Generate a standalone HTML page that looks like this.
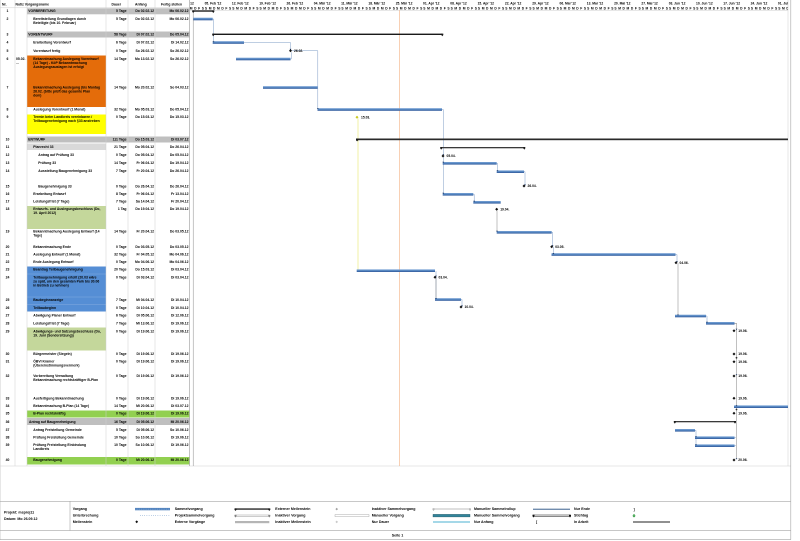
<!DOCTYPE html>
<html><head><meta charset="utf-8">
<style>
html,body{margin:0;padding:0;background:#fff;}
svg{display:block;}
.t{font-family:"Liberation Sans",Arial,sans-serif;font-weight:bold;font-size:3.4px;fill:#000;}
.s{font-family:"Liberation Sans",Arial,sans-serif;font-weight:bold;font-size:3.3px;fill:#000;}
.r{text-anchor:end;}
.c{text-anchor:middle;}
.l{font-family:"Liberation Sans",Arial,sans-serif;font-weight:bold;font-size:3.6px;fill:#000;}
</style></head>
<body>
<svg width="800" height="541" viewBox="0 0 800 541" xmlns="http://www.w3.org/2000/svg">
<defs>
<linearGradient id="bg" x1="0" y1="0" x2="0" y2="1">
<stop offset="0" stop-color="#7aa3d6"/><stop offset="0.55" stop-color="#4f81bd"/><stop offset="1" stop-color="#2f5597"/>
</linearGradient>
<clipPath id="ch"><rect x="190" y="0" width="598" height="467"/></clipPath>
</defs>
<rect width="800" height="541" fill="#fff"/>

<!-- row backgrounds -->
<rect x="27" y="8.3" width="162.5" height="6" fill="#bfbfbf"/>
<rect x="27" y="31.5" width="162.5" height="6" fill="#bfbfbf"/>
<rect x="27" y="55.5" width="79" height="51.5" fill="#e46c0a"/>
<rect x="27" y="114.5" width="79" height="19.5" fill="#ffff00"/>
<rect x="27" y="136.5" width="162.5" height="6" fill="#bfbfbf"/>
<rect x="27" y="143.5" width="79" height="6.5" fill="#d9d9d9"/>
<rect x="27" y="206" width="79" height="23" fill="#c4d79b"/>
<rect x="27" y="266.5" width="79" height="45" fill="#558ed5"/>
<line x1="27" y1="274" x2="106" y2="274" stroke="#8fb4e3" stroke-width="0.4"/>
<line x1="27" y1="297" x2="106" y2="297" stroke="#8fb4e3" stroke-width="0.4"/>
<line x1="27" y1="304.5" x2="106" y2="304.5" stroke="#8fb4e3" stroke-width="0.4"/>
<rect x="27" y="327.5" width="79" height="23" fill="#c4d79b"/>
<rect x="27" y="410.5" width="162.5" height="7" fill="#92d050"/>
<rect x="27" y="418" width="162.5" height="7" fill="#bfbfbf"/>
<rect x="27" y="457" width="162.5" height="7.5" fill="#92d050"/>

<!-- table grid -->
<g stroke="#cfcfcf" stroke-width="0.5">
<line x1="0.5" y1="0" x2="0.5" y2="540"/>
<line x1="15" y1="0" x2="15" y2="466"/>
<line x1="27" y1="0" x2="27" y2="466"/>
<line x1="106" y1="0" x2="106" y2="466"/>
<line x1="128" y1="0" x2="128" y2="466"/>
<line x1="155" y1="0" x2="155" y2="466"/>
<line x1="0" y1="7.8" x2="189.5" y2="7.8"/>
<line x1="190" y1="10.3" x2="788" y2="10.3"/>
<line x1="0" y1="466" x2="791" y2="466"/>
<line x1="788" y1="0" x2="788" y2="466"/>
</g>
<line x1="189.5" y1="0" x2="189.5" y2="466" stroke="#999" stroke-width="0.6"/>

<!-- table header -->
<text class="t" x="2" y="5.3">Nr.</text>
<text class="t" x="15.5" y="5.3">Notiz Vorgangsname</text>
<text class="t" x="111.5" y="5.3">Dauer</text>
<text class="t" x="135" y="5.3">Anfang</text>
<text class="t" x="161" y="5.3">Fertig stellen</text>

<!-- Nr column -->
<g class="t c">
<text x="7.5" y="12.2">1</text><text x="7.5" y="20.2">2</text><text x="7.5" y="35.5">3</text>
<text x="7.5" y="43.7">4</text><text x="7.5" y="52.2">5</text><text x="7.5" y="59.9">6</text>
<text x="7.5" y="88.5">7</text><text x="7.5" y="110.5">8</text><text x="7.5" y="118.2">9</text>
<text x="7.5" y="140.5">10</text><text x="7.5" y="147.9">11</text><text x="7.5" y="155.9">12</text>
<text x="7.5" y="164.2">13</text><text x="7.5" y="172.2">14</text><text x="7.5" y="187.7">15</text>
<text x="7.5" y="195.2">16</text><text x="7.5" y="202.7">17</text><text x="7.5" y="210.2">18</text>
<text x="7.5" y="232.7">19</text><text x="7.5" y="247.9">20</text><text x="7.5" y="255.7">21</text>
<text x="7.5" y="263.2">22</text><text x="7.5" y="270.7">23</text><text x="7.5" y="278.5">24</text>
<text x="7.5" y="301.2">25</text><text x="7.5" y="308.9">26</text><text x="7.5" y="316.7">27</text>
<text x="7.5" y="324.7">28</text><text x="7.5" y="332.7">29</text><text x="7.5" y="354.9">30</text>
<text x="7.5" y="362.5">31</text><text x="7.5" y="377.2">32</text><text x="7.5" y="399.7">33</text>
<text x="7.5" y="407.2">34</text><text x="7.5" y="414.7">35</text><text x="7.5" y="422.9">36</text>
<text x="7.5" y="430.9">37</text><text x="7.5" y="438.5">38</text><text x="7.5" y="446.2">39</text>
<text x="7.5" y="461.2">40</text>
</g>
<text class="t" x="16" y="59.9">05.02.</text>
<text class="t" x="16" y="63.9">...</text>

<!-- names -->
<g class="t">
<text x="28.3" y="12.2">VORBEREITUNG</text>
<text x="33.3" y="20.2">Bereitstellung Grundlagen durch</text>
<text x="33.3" y="24.2">Beteiligte (bis 10. Februar)</text>
<text x="28.3" y="35.5">VORENTWURF</text>
<text x="33.3" y="43.7">Erarbeitung Vorentwurf</text>
<text x="33.3" y="52.2">Vorentwurf fertig</text>
<text x="33.3" y="59.9">Bekanntmachung Auslegung Vorentwurf</text>
<text x="33.3" y="63.9">(14 Tage) - KöP Bekanntmachung</text>
<text x="33.3" y="67.9">Auslegungsauslagen ist erfolgt</text>
<text x="33.3" y="88.5">Bekanntmachung Auslegung (bis Montag</text>
<text x="33.3" y="92.5">26.02. (bitte prüft das gesamte Plan</text>
<text x="33.3" y="96.5">dem)</text>
<text x="33.3" y="110.5">Auslegung Vorentwurf (1 Monat)</text>
<text x="33.3" y="118.2">Termin beim Landkreis vereinbaren /</text>
<text x="33.3" y="122.2">Teilbaugenehmigung nach §33 anstreben</text>
<text x="28.3" y="140.5">ENTWURF</text>
<text x="33.3" y="147.9">Planrecht 33</text>
<text x="38.3" y="155.9">Antrag auf Prüfung 33</text>
<text x="38.3" y="164.2">Prüfung 33</text>
<text x="38.3" y="172.2">Ausstellung Baugenehmigung 33</text>
<text x="38.3" y="187.7">Baugenehmigung 33</text>
<text x="33.3" y="195.2">Erarbeitung Entwurf</text>
<text x="33.3" y="202.7">Leistungsfrist (7 Tage)</text>
<text x="33.3" y="210.2">Entwurfs- und Auslegungsbeschluss (Do,</text>
<text x="33.3" y="214.2">19. April 2012)</text>
<text x="33.3" y="232.7">Bekanntmachung Auslegung Entwurf (14</text>
<text x="33.3" y="236.7">Tage)</text>
<text x="33.3" y="247.9">Bekanntmachung Ende</text>
<text x="33.3" y="255.7">Auslegung Entwurf (1 Monat)</text>
<text x="33.3" y="263.2">Ende Auslegung Entwurf</text>
<text x="33.3" y="270.7">Beantrag Teilbaugenehmigung</text>
<text x="33.3" y="278.5">Teilbaugenehmigung erteilt (20.03 wäre</text>
<text x="33.3" y="282.5">zu spät, um den gesamten Park bis 30.06</text>
<text x="33.3" y="286.5">in Betrieb zu nehmen)</text>
<text x="33.3" y="301.2">Baubeginnanzeige</text>
<text x="33.3" y="308.9">Teilbaubeginn</text>
<text x="33.3" y="316.7">Abwägung Planer Entwurf</text>
<text x="33.3" y="324.7">Leistungsfrist (7 Tage)</text>
<text x="33.3" y="332.7">Abwägungs- und Satzungsbeschluss (Do,</text>
<text x="33.3" y="336.7">19. Juni (Sondersitzung))</text>
<text x="33.3" y="354.9">Bürgermeister (Siegeln)</text>
<text x="33.3" y="362.5">ÖBVI Kramer</text>
<text x="33.3" y="366.5">(Übereinstimmungsvermerk)</text>
<text x="33.3" y="377.2">Vorbereitung Verwaltung</text>
<text x="33.3" y="381.2">Bekanntmachung rechtskräftiger B-Plan</text>
<text x="33.3" y="399.7">Ausfertigung Bekanntmachung</text>
<text x="33.3" y="407.2">Bekanntmachung B-Plan (14 Tage)</text>
<text x="33.3" y="414.7">B-Plan rechtskräftig</text>
<text x="29" y="422.9">Antrag auf Baugenehmigung</text>
<text x="33.3" y="430.9">Antrag Freistellung Gemeinde</text>
<text x="33.3" y="438.5">Prüfung Freistellung Gemeinde</text>
<text x="33.3" y="446.2">Prüfung Freistellung Einbindung</text>
<text x="33.3" y="450.2">Landkreis</text>
<text x="33.3" y="461.2">Baugenehmigung</text>
</g>

<!-- Dauer -->
<g class="t r">
<text x="126.5" y="12.2">5 Tage</text><text x="126.5" y="20.2">5 Tage</text><text x="126.5" y="35.5">58 Tage</text>
<text x="126.5" y="43.7">6 Tage</text><text x="126.5" y="52.2">0 Tage</text><text x="126.5" y="59.9">14 Tage</text>
<text x="126.5" y="88.5">14 Tage</text><text x="126.5" y="110.5">32 Tage</text><text x="126.5" y="118.2">0 Tage</text>
<text x="126.5" y="140.5">111 Tage</text><text x="126.5" y="147.9">21 Tage</text><text x="126.5" y="155.9">0 Tage</text>
<text x="126.5" y="164.2">14 Tage</text><text x="126.5" y="172.2">7 Tage</text><text x="126.5" y="187.7">0 Tage</text>
<text x="126.5" y="195.2">8 Tage</text><text x="126.5" y="202.7">7 Tage</text><text x="126.5" y="210.2">1 Tag</text>
<text x="126.5" y="232.7">14 Tage</text><text x="126.5" y="247.9">0 Tage</text><text x="126.5" y="255.7">32 Tage</text>
<text x="126.5" y="263.2">0 Tage</text><text x="126.5" y="270.7">20 Tage</text><text x="126.5" y="278.5">0 Tage</text>
<text x="126.5" y="301.2">7 Tage</text><text x="126.5" y="308.9">0 Tage</text><text x="126.5" y="316.7">6 Tage</text>
<text x="126.5" y="324.7">7 Tage</text><text x="126.5" y="332.7">0 Tage</text><text x="126.5" y="354.9">0 Tage</text>
<text x="126.5" y="362.5">0 Tage</text><text x="126.5" y="377.2">0 Tage</text><text x="126.5" y="399.7">0 Tage</text>
<text x="126.5" y="407.2">14 Tage</text><text x="126.5" y="414.7">0 Tage</text><text x="126.5" y="422.9">16 Tage</text>
<text x="126.5" y="430.9">5 Tage</text><text x="126.5" y="438.5">10 Tage</text><text x="126.5" y="446.2">10 Tage</text>
<text x="126.5" y="461.2">0 Tage</text>
</g>

<!-- Anfang -->
<g class="t r">
<text x="154" y="12.2">Do 02.02.12</text><text x="154" y="20.2">Do 02.02.12</text><text x="154" y="35.5">Di 07.02.12</text>
<text x="154" y="43.7">Di 07.02.12</text><text x="154" y="52.2">So 26.02.12</text><text x="154" y="59.9">Mo 13.02.12</text>
<text x="154" y="88.5">Mo 20.02.12</text><text x="154" y="110.5">Mo 05.03.12</text><text x="154" y="118.2">Do 15.03.12</text>
<text x="154" y="140.5">Do 15.03.12</text><text x="154" y="147.9">Do 05.04.12</text><text x="154" y="155.9">Do 05.04.12</text>
<text x="154" y="164.2">Fr 06.04.12</text><text x="154" y="172.2">Fr 20.04.12</text><text x="154" y="187.7">Do 26.04.12</text>
<text x="154" y="195.2">Fr 06.04.12</text><text x="154" y="202.7">Sa 14.04.12</text><text x="154" y="210.2">Do 19.04.12</text>
<text x="154" y="232.7">Fr 20.04.12</text><text x="154" y="247.9">Do 03.05.12</text><text x="154" y="255.7">Fr 04.05.12</text>
<text x="154" y="263.2">Mo 04.06.12</text><text x="154" y="270.7">Do 15.03.12</text><text x="154" y="278.5">Di 03.04.12</text>
<text x="154" y="301.2">Mi 04.04.12</text><text x="154" y="308.9">Di 10.04.12</text><text x="154" y="316.7">Di 05.06.12</text>
<text x="154" y="324.7">Mi 13.06.12</text><text x="154" y="332.7">Di 19.06.12</text><text x="154" y="354.9">Di 19.06.12</text>
<text x="154" y="362.5">Di 19.06.12</text><text x="154" y="377.2">Di 19.06.12</text><text x="154" y="399.7">Di 19.06.12</text>
<text x="154" y="407.2">Mi 20.06.12</text><text x="154" y="414.7">Di 19.06.12</text><text x="154" y="422.9">Di 05.06.12</text>
<text x="154" y="430.9">Di 05.06.12</text><text x="154" y="438.5">So 10.06.12</text><text x="154" y="446.2">So 10.06.12</text>
<text x="154" y="461.2">Mi 20.06.12</text>
</g>

<!-- Fertig -->
<g class="t r">
<text x="188.5" y="12.2">Mo 06.02.12</text><text x="188.5" y="20.2">Mo 06.02.12</text><text x="188.5" y="35.5">Do 05.04.12</text>
<text x="188.5" y="43.7">Di 14.02.12</text><text x="188.5" y="52.2">So 26.02.12</text><text x="188.5" y="59.9">So 26.02.12</text>
<text x="188.5" y="88.5">So 04.03.12</text><text x="188.5" y="110.5">Do 05.04.12</text><text x="188.5" y="118.2">Do 15.03.12</text>
<text x="188.5" y="140.5">Di 03.07.12</text><text x="188.5" y="147.9">Do 26.04.12</text><text x="188.5" y="155.9">Do 05.04.12</text>
<text x="188.5" y="164.2">Do 19.04.12</text><text x="188.5" y="172.2">Do 26.04.12</text><text x="188.5" y="187.7">Do 26.04.12</text>
<text x="188.5" y="195.2">Fr 13.04.12</text><text x="188.5" y="202.7">Fr 20.04.12</text><text x="188.5" y="210.2">Do 19.04.12</text>
<text x="188.5" y="232.7">Do 03.05.12</text><text x="188.5" y="247.9">Do 03.05.12</text><text x="188.5" y="255.7">Mo 04.06.12</text>
<text x="188.5" y="263.2">Mo 04.06.12</text><text x="188.5" y="270.7">Di 03.04.12</text><text x="188.5" y="278.5">Di 03.04.12</text>
<text x="188.5" y="301.2">Di 10.04.12</text><text x="188.5" y="308.9">Di 10.04.12</text><text x="188.5" y="316.7">Di 12.06.12</text>
<text x="188.5" y="324.7">Di 19.06.12</text><text x="188.5" y="332.7">Di 19.06.12</text><text x="188.5" y="354.9">Di 19.06.12</text>
<text x="188.5" y="362.5">Di 19.06.12</text><text x="188.5" y="377.2">Di 19.06.12</text><text x="188.5" y="399.7">Di 19.06.12</text>
<text x="188.5" y="407.2">Di 03.07.12</text><text x="188.5" y="414.7">Di 19.06.12</text><text x="188.5" y="422.9">Mi 20.06.12</text>
<text x="188.5" y="430.9">So 10.06.12</text><text x="188.5" y="438.5">Di 19.06.12</text><text x="188.5" y="446.2">Di 19.06.12</text>
<text x="188.5" y="461.2">Mi 20.06.12</text>
</g>

<!-- ============ CHART ============ -->
<g clip-path="url(#ch)">
<!-- timeline header: week labels -->
<g class="s">
<text x="177.3" y="4.6">29. Jan '12</text>
<text x="204.6" y="4.6">05. Feb '12</text>
<text x="231.9" y="4.6">12. Feb '12</text>
<text x="259.2" y="4.6">19. Feb '12</text>
<text x="286.5" y="4.6">26. Feb '12</text>
<text x="313.8" y="4.6">04. Mär '12</text>
<text x="341.1" y="4.6">11. Mär '12</text>
<text x="368.4" y="4.6">18. Mär '12</text>
<text x="395.7" y="4.6">25. Mär '12</text>
<text x="423.0" y="4.6">01. Apr '12</text>
<text x="450.3" y="4.6">08. Apr '12</text>
<text x="477.6" y="4.6">15. Apr '12</text>
<text x="504.9" y="4.6">22. Apr '12</text>
<text x="532.2" y="4.6">29. Apr '12</text>
<text x="559.5" y="4.6">06. Mai '12</text>
<text x="586.8" y="4.6">13. Mai '12</text>
<text x="614.1" y="4.6">20. Mai '12</text>
<text x="641.4" y="4.6">27. Mai '12</text>
<text x="668.7" y="4.6">03. Jun '12</text>
<text x="696.0" y="4.6">10. Jun '12</text>
<text x="723.3" y="4.6">17. Jun '12</text>
<text x="750.6" y="4.6">24. Jun '12</text>
<text x="777.9" y="4.6">01. Jul '12</text>
</g>
<!-- day letters -->
<g class="s">
<text x="177.6" y="9.3" textLength="26.3" lengthAdjust="spacing">SMDMDFS</text>
<text x="204.9" y="9.3" textLength="26.3" lengthAdjust="spacing">SMDMDFS</text>
<text x="232.2" y="9.3" textLength="26.3" lengthAdjust="spacing">SMDMDFS</text>
<text x="259.5" y="9.3" textLength="26.3" lengthAdjust="spacing">SMDMDFS</text>
<text x="286.8" y="9.3" textLength="26.3" lengthAdjust="spacing">SMDMDFS</text>
<text x="314.1" y="9.3" textLength="26.3" lengthAdjust="spacing">SMDMDFS</text>
<text x="341.4" y="9.3" textLength="26.3" lengthAdjust="spacing">SMDMDFS</text>
<text x="368.7" y="9.3" textLength="26.3" lengthAdjust="spacing">SMDMDFS</text>
<text x="396.0" y="9.3" textLength="26.3" lengthAdjust="spacing">SMDMDFS</text>
<text x="423.3" y="9.3" textLength="26.3" lengthAdjust="spacing">SMDMDFS</text>
<text x="450.6" y="9.3" textLength="26.3" lengthAdjust="spacing">SMDMDFS</text>
<text x="477.9" y="9.3" textLength="26.3" lengthAdjust="spacing">SMDMDFS</text>
<text x="505.2" y="9.3" textLength="26.3" lengthAdjust="spacing">SMDMDFS</text>
<text x="532.5" y="9.3" textLength="26.3" lengthAdjust="spacing">SMDMDFS</text>
<text x="559.8" y="9.3" textLength="26.3" lengthAdjust="spacing">SMDMDFS</text>
<text x="587.1" y="9.3" textLength="26.3" lengthAdjust="spacing">SMDMDFS</text>
<text x="614.4" y="9.3" textLength="26.3" lengthAdjust="spacing">SMDMDFS</text>
<text x="641.7" y="9.3" textLength="26.3" lengthAdjust="spacing">SMDMDFS</text>
<text x="669.0" y="9.3" textLength="26.3" lengthAdjust="spacing">SMDMDFS</text>
<text x="696.3" y="9.3" textLength="26.3" lengthAdjust="spacing">SMDMDFS</text>
<text x="723.6" y="9.3" textLength="26.3" lengthAdjust="spacing">SMDMDFS</text>
<text x="750.9" y="9.3" textLength="26.3" lengthAdjust="spacing">SMDMDFS</text>
<text x="778.2" y="9.3" textLength="26.3" lengthAdjust="spacing">SMDMDFS</text>
</g>

<!-- status line & left line -->
<line x1="399.3" y1="10.3" x2="399.3" y2="466" stroke="#f4b183" stroke-width="0.6"/>
<line x1="193.2" y1="11" x2="193.2" y2="466" stroke="#8a8a8a" stroke-width="0.5"/>

<!-- connectors -->
<g fill="none" stroke="#7f9cc6" stroke-width="0.5">
<polyline points="212.7,19 213.5,19 213.5,41"/>
<polyline points="244,42.5 290.5,42.5 290.5,49.3"/>
<polyline points="290.5,59 291.3,59 291.3,52.3"/>
<polyline points="292,50.7 317.8,50.7 317.8,108.3"/>
<polyline points="442,109.5 443.3,109.5 443.3,193"/>
<polyline points="496.7,163.3 497.5,163.3 497.5,170.5"/>
<polyline points="524,171.7 525,171.7 525,184.7"/>
<polyline points="473.3,194.3 474.2,194.3 474.2,201"/>
<polyline points="551.7,232.3 552.6,232.3 552.6,245.4"/>
<polyline points="553,247 553.4,247 553.4,253.3"/>
<polyline points="675.5,254.5 677,254.5 677,261.4"/>
<polyline points="706,316 707,316 707,322"/>
<polyline points="436,271 436,298.2"/>
<polyline points="461,299.5 462,299.5 462,305.7"/>
<polyline points="695,430.3 696,430.3 696,444.5"/>
<polyline points="734.5,437.7 735.8,437.7"/>
<polyline points="734.5,445.7 735.8,445.7"/>
</g>
<g fill="none" stroke="#8c8c8c" stroke-width="0.55">
<polyline points="497,210.5 497,231"/>
<polyline points="678,263 678,315"/>
<polyline points="436,278 436,298.5"/>
<polyline points="734.5,323.3 736.5,323.3 736.5,459"/>
</g>
<line x1="358" y1="118.5" x2="358" y2="269.5" stroke="#e6e66a" stroke-width="0.6"/>

<!-- task bars -->
<g fill="url(#bg)">
<rect x="193.3" y="17.7" width="19.4" height="2.6"/>
<rect x="212.7" y="41.2" width="31.3" height="2.6"/>
<rect x="236" y="57.7" width="54.5" height="2.6"/>
<rect x="263" y="86.2" width="54.5" height="2.6"/>
<rect x="317.5" y="108.2" width="124.5" height="2.6"/>
<rect x="442.7" y="162" width="54" height="2.6"/>
<rect x="496.7" y="170.4" width="27.3" height="2.6"/>
<rect x="442.7" y="193" width="30.6" height="2.6"/>
<rect x="473.3" y="201" width="27.4" height="2.6"/>
<rect x="496.7" y="231" width="55" height="2.6"/>
<rect x="551.5" y="253.2" width="124" height="2.6"/>
<rect x="356.7" y="269.4" width="78.3" height="2.6"/>
<rect x="435" y="298.2" width="26" height="2.6"/>
<rect x="675" y="314.7" width="31" height="2.6"/>
<rect x="706" y="322" width="28.5" height="2.6"/>
<rect x="734" y="405.4" width="54" height="2.6"/>
<rect x="675" y="429" width="20" height="2.6"/>
<rect x="695" y="436.4" width="39.5" height="2.6"/>
<rect x="695" y="444.4" width="39.5" height="2.6"/>
</g>

<!-- arrowheads -->
<g fill="#1f3864">
<path d="M212.6 41.2h1.8l-0.9 1.3z"/>
<path d="M289.6 48.9h1.8l-0.9 1.3z"/>
<path d="M316.9 108h1.8l-0.9 1.3z"/>
<path d="M442.4 154h1.8l-0.9 1.3z"/>
<path d="M442.4 161.8h1.8l-0.9 1.3z"/>
<path d="M442.4 192.8h1.8l-0.9 1.3z"/>
<path d="M496.6 170.2h1.8l-0.9 1.3z"/>
<path d="M524.1 184.4h1.8l-0.9 1.3z"/>
<path d="M473.3 200.8h1.8l-0.9 1.3z"/>
<path d="M496.1 230.8h1.8l-0.9 1.3z"/>
<path d="M551.7 245h1.8l-0.9 1.3z"/>
<path d="M552.5 253h1.8l-0.9 1.3z"/>
<path d="M676.1 261h1.8l-0.9 1.3z"/>
<path d="M677.1 314.5h1.8l-0.9 1.3z"/>
<path d="M706.1 321.8h1.8l-0.9 1.3z"/>
<path d="M435.1 275.6h1.8l-0.9 1.3z"/>
<path d="M435.1 298h1.8l-0.9 1.3z"/>
<path d="M461.1 305.4h1.8l-0.9 1.3z"/>
<path d="M695.1 436.2h1.8l-0.9 1.3z"/>
<path d="M695.1 444.2h1.8l-0.9 1.3z"/>
<path d="M735.6 328.8h1.8l-0.9 1.3z"/>
<path d="M735.6 374.2h1.8l-0.9 1.3z"/>
<path d="M735.6 405.2h1.8l-0.9 1.3z"/>
<path d="M735.6 458.2h1.8l-0.9 1.3z"/>
</g>

<!-- summary bars -->
<g fill="#1a1a1a">
<rect x="192.7" y="10.4" width="20.6" height="1.3"/>
<path d="M192.2 10.4h2v1.4l-1 1.2l-1-1.2z"/><path d="M212.3 10.4h2v1.4l-1 1.2l-1-1.2z"/>
<rect x="212.7" y="33.6" width="229.6" height="1.4"/>
<path d="M212.2 33.6h2v1.4l-1 1.2l-1-1.2z"/><path d="M441.3 33.6h2v1.4l-1 1.2l-1-1.2z"/>
<rect x="356.5" y="138.5" width="432" height="1.7" fill="#2a2a2a"/>
<path d="M356 138.5h2.2v1.7l-1.1 1.2l-1.1-1.2z"/>
<rect x="440.7" y="147" width="83.6" height="1.3" fill="#3a3a3a"/>
<path d="M440.2 147h2v1.4l-1 1.2l-1-1.2z"/><path d="M523.3 147h2v1.4l-1 1.2l-1-1.2z"/>
<rect x="674.3" y="421" width="60.7" height="1.3" fill="#3a3a3a"/>
<path d="M673.8 421h2v1.4l-1 1.2l-1-1.2z"/><path d="M734 421h2v1.4l-1 1.2l-1-1.2z"/>
</g>

<!-- milestones -->
<g fill="#111">
<path d="M290.5 49.2l1.5 1.5l-1.5 1.5l-1.5-1.5z"/>
<path d="M443 154.5l1.5 1.5l-1.5 1.5l-1.5-1.5z"/>
<path d="M524 184.5l1.5 1.5l-1.5 1.5l-1.5-1.5z"/>
<path d="M496.7 207.8l1.5 1.5l-1.5 1.5l-1.5-1.5z"/>
<path d="M551.7 245.2l1.5 1.5l-1.5 1.5l-1.5-1.5z"/>
<path d="M676 261.2l1.5 1.5l-1.5 1.5l-1.5-1.5z"/>
<path d="M435 275.8l1.5 1.5l-1.5 1.5l-1.5-1.5z"/>
<path d="M461 305.5l1.5 1.5l-1.5 1.5l-1.5-1.5z"/>
<path d="M734 329.2l1.5 1.5l-1.5 1.5l-1.5-1.5z"/>
<path d="M734 352.5l1.5 1.5l-1.5 1.5l-1.5-1.5z"/>
<path d="M734 360.2l1.5 1.5l-1.5 1.5l-1.5-1.5z"/>
<path d="M734 374.5l1.5 1.5l-1.5 1.5l-1.5-1.5z"/>
<path d="M734 396.8l1.5 1.5l-1.5 1.5l-1.5-1.5z"/>
<path d="M734 411.8l1.5 1.5l-1.5 1.5l-1.5-1.5z"/>
<path d="M734 458.5l1.5 1.5l-1.5 1.5l-1.5-1.5z"/>
</g>
<path d="M357 115.8l1.5 1.5l-1.5 1.5l-1.5-1.5z" fill="#c8c820"/>
<circle cx="736.5" cy="357.8" r="0.9" fill="#333"/>
<circle cx="736.5" cy="409.5" r="0.9" fill="#333"/>

<g class="s">
<text x="294" y="51.9">26.02.</text>
<text x="361" y="118.5">15.03.</text>
<text x="446.5" y="157.2">05.04.</text>
<text x="527.5" y="187.2">26.04.</text>
<text x="500.2" y="210.5">19.04.</text>
<text x="555.2" y="247.9">03.05.</text>
<text x="679.5" y="263.9">04.06.</text>
<text x="438.5" y="278.5">03.04.</text>
<text x="464.5" y="308.2">10.04.</text>
<text x="738.3" y="331.9">19.06.</text>
<text x="738.3" y="355.2">19.06.</text>
<text x="738.3" y="362.9">19.06.</text>
<text x="738.3" y="377.2">19.06.</text>
<text x="738.3" y="399.5">19.06.</text>
<text x="738.3" y="414.5">19.06.</text>
<text x="738.3" y="461.2">20.06.</text>
</g>
</g>

<!-- ============ LEGEND ============ -->
<g stroke="#a6a6a6" stroke-width="0.6" fill="none">
<line x1="0" y1="501.3" x2="791" y2="501.3"/>
<line x1="0" y1="530.6" x2="791" y2="530.6"/>
<line x1="0" y1="539.6" x2="791" y2="539.6"/>
<line x1="70" y1="501.3" x2="70" y2="530.6"/>
<line x1="790.8" y1="0" x2="790.8" y2="539.6"/>
</g>
<text class="l" x="4" y="513.5">Projekt: msproj11</text>
<text class="l" x="4" y="520.2">Datum: Mo 26.09.12</text>

<g class="l">
<text x="72.7" y="510.2">Vorgang</text>
<text x="72.7" y="516.7">Unterbrechung</text>
<text x="72.7" y="522.9">Meilenstein</text>
<text x="174.7" y="510.2">Sammelvorgang</text>
<text x="174.7" y="516.7">Projektsammelvorgang</text>
<text x="174.7" y="522.9">Externe Vorgänge</text>
<text x="275.3" y="510.2">Externer Meilenstein</text>
<text x="275.3" y="516.7">Inaktiver Vorgang</text>
<text x="275.3" y="522.9">Inaktiver Meilenstein</text>
<text x="371.7" y="510.2">Inaktiver Sammelvorgang</text>
<text x="371.7" y="516.7">Manueller Vorgang</text>
<text x="371.7" y="522.9">Nur Dauer</text>
<text x="474" y="510.2">Manueller Sammelrollup</text>
<text x="474" y="516.7">Manueller Sammelvorgang</text>
<text x="474" y="522.9">Nur Anfang</text>
<text x="574" y="510.2">Nur Ende</text>
<text x="574" y="516.7">Stichtag</text>
<text x="574" y="522.9">In Arbeit</text>
</g>

<!-- legend symbols -->
<rect x="135" y="507.9" width="35" height="2.4" fill="#4f81bd"/>
<line x1="135.5" y1="509.1" x2="170" y2="509.1" stroke="#a9c4e6" stroke-width="0.5" stroke-dasharray="1,0.8"/>
<line x1="140" y1="515.7" x2="170" y2="515.7" stroke="#4f81bd" stroke-width="0.6" stroke-dasharray="0.6,1.6"/>
<path d="M136.7 520.4l1.4 1.4l-1.4 1.4l-1.4-1.4z" fill="#111"/>

<rect x="235" y="508.4" width="34.3" height="1.3" fill="#1a1a1a"/>
<path d="M234.5 508.4h2v1.4l-1 1.2l-1-1.2z" fill="#1a1a1a"/><path d="M268.3 508.4h2v1.4l-1 1.2l-1-1.2z" fill="#1a1a1a"/>
<rect x="235" y="515" width="34.3" height="1.2" fill="#fff" stroke="#808080" stroke-width="0.4"/>
<path d="M234.5 514.9h2v1.4l-1 1.2l-1-1.2z" fill="#808080"/><path d="M268.3 514.9h2v1.4l-1 1.2l-1-1.2z" fill="#808080"/>
<rect x="235" y="521" width="34.3" height="2.2" fill="#b5b5b5"/>

<path d="M336.7 507.8l1.3 1.3l-1.3 1.3l-1.3-1.3z" fill="#a0a0a0"/>
<rect x="335" y="514.6" width="34" height="2" fill="#fff" stroke="#9a9a9a" stroke-width="0.4"/>
<path d="M336.7 520.6l1.3 1.3l-1.3 1.3l-1.3-1.3z" fill="#c8c8c8"/>

<rect x="433" y="508.5" width="37" height="1.2" fill="#fff" stroke="#b0b0b0" stroke-width="0.4"/>
<path d="M432.5 508.4h2v1.4l-1 1.2l-1-1.2z" fill="#b8b8b8"/><path d="M469 508.4h2v1.4l-1 1.2l-1-1.2z" fill="#b8b8b8"/>
<rect x="433" y="514.4" width="37" height="2.5" fill="#31859c" stroke="#1f4e5c" stroke-width="0.4"/>
<rect x="433" y="521" width="37" height="2" fill="#a5d8e8"/>

<line x1="533" y1="509.2" x2="570" y2="509.2" stroke="#1f497d" stroke-width="0.8"/>
<rect x="533" y="515" width="37" height="1.3" fill="#fff" stroke="#111" stroke-width="0.5"/>
<path d="M532.5 514.8h2v1.5l-1 1.2l-1-1.2z" fill="#111"/><path d="M569 514.8h2v1.5l-1 1.2l-1-1.2z" fill="#111"/>
<text class="l" x="536" y="523.2">[</text>

<text class="l" x="633.5" y="510.3">]</text>
<path d="M633.3 514.2h1.4v1.4h1.1l-1.8 1.9l-1.8-1.9h1.1z" fill="#2e9a3e"/>
<line x1="633" y1="522" x2="670" y2="522" stroke="#222" stroke-width="0.9"/>

<text class="l c" x="397.5" y="536.5">Seite 1</text>
</svg>
</body></html>
